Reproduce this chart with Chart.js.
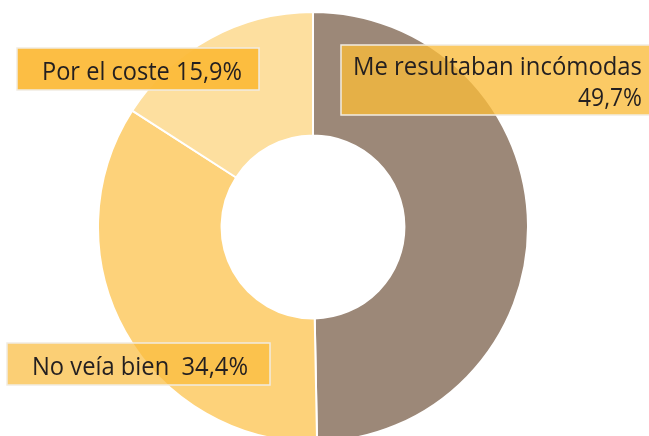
<!DOCTYPE html>
<html>
<head>
<meta charset="utf-8">
<script src="https://cdn.jsdelivr.net/npm/chart.js@4"></script>
<style>
    html, body { margin: 0; padding: 0; background: #fff; }
    .wrap { width: 649px; height: 436px; overflow: hidden; position: relative; }
</style>
</head>
<body>
<div class="wrap">
    <canvas id="myDoughnut" width="649" height="442"></canvas>
</div>
<script>
// data
const categories = ['Me resultaban incómodas', 'No veía bien', 'Por el coste'];
const percents = [49.7, 34.4, 15.9];
const sliceColors = ['#9c8878', '#fdd27a', '#fddf9f'];

// format 49.7 -> "49,7%"
function formatPct(v) {
    return v.toFixed(1).replace('.', ',') + '%';
}

const FONT = '25px "Open Sans", sans-serif';

// label boxes drawn on top of the arcs
const labelBoxes = {
    id: 'labelBoxes',
    afterDraw(chart) {
        const ctx = chart.ctx;
        // [text, align, x, baseline, max width]
        const boxes = [
            { x: 341, y: 45, w: 320, h: 70, fill: 'rgba(250,187,58,0.78)',
              lines: [[categories[0], 'left', 353, 75, 289], [formatPct(percents[0]), 'right', 642, 106, 64]] },
            { x: 7, y: 343, w: 263, h: 42, fill: 'rgba(250,187,58,0.70)',
              lines: [[categories[1] + '  ' + formatPct(percents[1]), 'left', 32, 375, 216]] },
            { x: 17, y: 48, w: 242, h: 42, fill: 'rgba(252,187,58,0.95)',
              lines: [[categories[2] + ' ' + formatPct(percents[2]), 'left', 42, 80, 200]] }
        ];
        ctx.save();
        boxes.forEach(function (b) {
            ctx.fillStyle = b.fill;
            ctx.fillRect(b.x, b.y, b.w, b.h);
            ctx.strokeStyle = '#f1ece2';
            ctx.lineWidth = 1.5;
            ctx.strokeRect(b.x, b.y, b.w, b.h);
            ctx.fillStyle = '#231f20';
            ctx.font = FONT;
            ctx.textBaseline = 'alphabetic';
            b.lines.forEach(function (l) {
                ctx.textAlign = l[1];
                ctx.fillText(l[0], l[2], l[3], l[4]);
            });
        });
        ctx.restore();
    }
};

const myDoughnut = new Chart(document.getElementById('myDoughnut'), {
    type: 'doughnut',
    data: {
        labels: categories,
        datasets: [{
            data: percents,
            backgroundColor: sliceColors,
            borderColor: '#ffffff',
            borderWidth: 2,
            hoverOffset: 0
        }]
    },
    options: {
        responsive: false,
        animation: false,
        radius: 215,
        cutout: 91,
        layout: { padding: { left: 98, right: 121, top: 12, bottom: 0 } },
        plugins: {
            legend: { display: false },
            tooltip: { enabled: false }
        }
    },
    plugins: [labelBoxes]
});
</script>
</body>
</html>
